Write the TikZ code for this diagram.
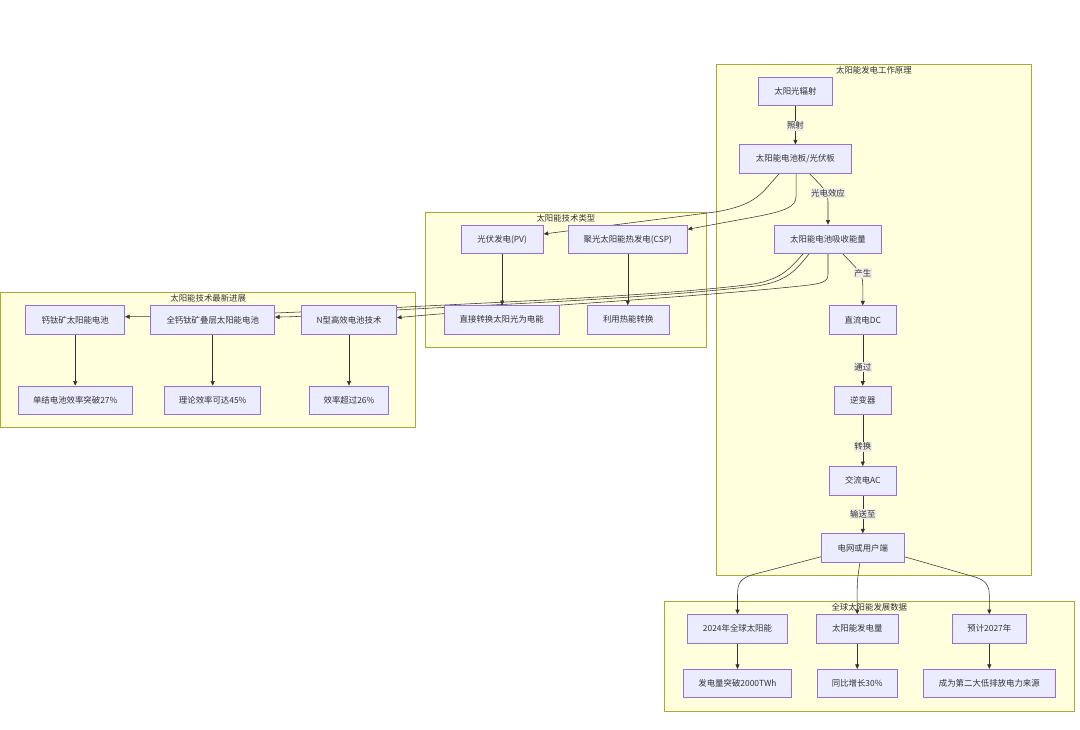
\documentclass[tikz,border=0pt]{standalone}
\usepackage{fontspec}
\setmainfont{Noto Sans CJK SC}
\usetikzlibrary{arrows.meta}
\definecolor{nodefill}{HTML}{ECECFF}
\definecolor{nodeline}{HTML}{9370DB}
\definecolor{clfill}{HTML}{FFFFDE}
\definecolor{clline}{HTML}{AAAA33}
\definecolor{edgecol}{HTML}{333333}
\definecolor{txt}{HTML}{333333}
\definecolor{labfill}{HTML}{EDEDE6}
\pgfdeclarelayer{bg}
\pgfdeclarelayer{edges}
\pgfsetlayers{bg,edges,main}
\tikzset{
  box/.style={draw=nodeline, fill=nodefill, line width=0.65pt, minimum height=28.5pt, inner sep=0pt, text=txt, font=\fontsize{8.4}{10}\selectfont},
  cluster/.style={draw=clline, fill=clfill, line width=0.65pt},
  ctitle/.style={text=txt, inner sep=0pt, font=\fontsize{8.4}{10}\selectfont},
  edge/.style={draw=edgecol, line width=0.55pt, -{Triangle[length=4.5pt,width=4pt]}},
  lab/.style={fill=labfill, text=txt, inner xsep=0.3pt, inner ysep=0pt, minimum height=10pt, font=\fontsize{8.4}{10}\selectfont}
}
\begin{document}
\begin{tikzpicture}[x=1pt,y=-1pt]
\useasboundingbox (0,0) rectangle (1080,730);
\begin{pgfonlayer}{bg}
  \fill[white] (0,0) rectangle (1080,730);
  \draw[cluster] (716,64.3) rectangle (1031.7,575.3);
  \node[ctitle] (t1) at (873.9,70.6) {太阳能发电工作原理};
  \draw[cluster] (425.7,212.3) rectangle (706,347);
  \node[ctitle] (t2) at (565.9,218.6) {太阳能技术类型};
  \draw[cluster] (0.7,292.3) rectangle (415.7,427.3);
  \node[ctitle] (t3) at (208.2,298.6) {太阳能技术最新进展};
  \draw[cluster] (664.7,601.3) rectangle (1074,711);
  \node[ctitle] (t4) at (869.3,607.6) {全球太阳能发展数据};
\end{pgfonlayer}

% principle
\node[box, minimum width=74.4pt] (sun) at (795.4,91.5) {太阳光辐射};
\node[box, minimum width=112pt] (panel) at (795.4,159) {太阳能电池板/光伏板};
\node[box, minimum width=107.4pt] (absorb) at (828,239.2) {太阳能电池吸收能量};
\node[box, minimum width=67pt] (dc) at (862.8,320) {直流电DC};
\node[box, minimum width=57pt] (inv) at (862.8,400.3) {逆变器};
\node[box, minimum width=67pt] (ac) at (862.8,480.7) {交流电AC};
\node[box, minimum width=82.4pt] (grid) at (862.8,548) {电网或用户端};
% types
\node[box, minimum width=82.3pt] (pv) at (502.2,239.3) {光伏发电(PV)};
\node[box, minimum width=119pt] (csp) at (627.8,239.3) {聚光太阳能热发电(CSP)};
\node[box, minimum width=115.3pt] (direct) at (501.7,319.8) {直接转换太阳光为电能};
\node[box, minimum width=82.3pt] (heat) at (628.2,319.8) {利用热能转换};
% progress
\node[box, minimum width=99pt] (pero) at (75.2,320) {钙钛矿太阳能电池};
\node[box, minimum width=124pt] (allp) at (212.7,320) {全钙钛矿叠层太阳能电池};
\node[box, minimum width=95.4pt] (ntype) at (349,320) {N型高效电池技术};
\node[box, minimum width=113.4pt] (single) at (75.2,400.2) {单结电池效率突破27\%};
\node[box, minimum width=96pt] (theory) at (212.7,400.2) {理论效率可达45\%};
\node[box, minimum width=79pt] (eff) at (349,400.2) {效率超过26\%};
% data
\node[box, minimum width=100.4pt] (y2024) at (737.5,628.7) {2024年全球太阳能};
\node[box, minimum width=82.3pt] (gen) at (857.2,628.7) {太阳能发电量};
\node[box, minimum width=74.7pt] (y2027) at (989.3,628.7) {预计2027年};
\node[box, minimum width=108.4pt] (twh) at (737.5,683.5) {发电量突破2000TWh};
\node[box, minimum width=79.4pt] (yoy) at (857.2,683.5) {同比增长30\%};
\node[box, minimum width=132.7pt] (second) at (989.3,683.5) {成为第二大低排放电力来源};

\begin{pgfonlayer}{edges}
  \draw[edge] (sun.south) -- (panel.north);
  \node[lab] (l1) at (795.4,125.8) {照射};
  \draw[edge] ([xshift=14pt]panel.south) .. controls (820,185) and (828,190) .. (828,202) -- (absorb.north);
  \node[lab] (l2) at (828,193.3) {光电效应};
  \draw[edge] ([xshift=14.7pt]absorb.south) .. controls (856,268) and (862.8,272) .. (862.8,285) -- (dc.north);
  \node[lab] (l3) at (862.8,273.2) {产生};
  \draw[edge] (dc.south) -- (inv.north);
  \node[lab] (l4) at (862.8,367.2) {通过};
  \draw[edge] (inv.south) -- (ac.north);
  \node[lab] (l5) at (862.8,446.7) {转换};
  \draw[edge] (ac.south) -- (grid.north);
  \node[lab] (l6) at (862.8,514.3) {输送至};

  \draw[edge] ([xshift=-16pt]panel.south) .. controls (762,192) and (758,205) .. (715,212) -- ([yshift=5.3pt]pv.east);
  \draw[edge] ([xshift=0.7pt]panel.south) -- (796.1,196) .. controls (796.1,207) and (785,211) .. (757,216.5) -- ([yshift=10pt]csp.east);

  \draw[edge] ([xshift=-24.7pt]absorb.south) .. controls (790,268) and (782,280) .. (750,284.5) .. controls (650,297) and (450,304) .. (380,308.5) .. controls (300,312) and (200,316.7) .. ([yshift=3.3pt]pero.east);
  \draw[edge] ([xshift=-18.7pt]absorb.south) .. controls (797,268) and (790,280) .. (760,285.5) .. controls (650,299) and (460,306) .. (397,310) .. controls (350,313) and (300,317) .. ([yshift=3pt]allp.east);
  \draw[edge] (absorb.south) -- (828,274) .. controls (828,282) and (822,283.5) .. (805,285.5) .. controls (700,297) and (500,308) .. ([yshift=2.3pt]ntype.east);

  \draw[edge] (pv.south) -- (pv.south |- direct.north);
  \draw[edge] (csp.south) -- (csp.south |- heat.north);
  \draw[edge] (pero.south) -- (single.north);
  \draw[edge] (allp.south) -- (theory.north);
  \draw[edge] (ntype.south) -- (eff.north);

  \draw[edge] ([yshift=-8.7pt]grid.west) -- (755,574) .. controls (740,578) and (737.5,583) .. (737.5,595) -- (y2024.north);
  \draw[edge] ([xshift=-2.8pt]grid.south) .. controls (858.5,572) and (857.2,578) .. (857.2,590) -- (gen.north);
  \draw[edge] ([yshift=-8.7pt]grid.east) -- (975,577) .. controls (985,580) and (989.3,585) .. (989.3,595) -- (y2027.north);

  \draw[edge] (y2024.south) -- (twh.north);
  \draw[edge] (gen.south) -- (yoy.north);
  \draw[edge] (y2027.south) -- (second.north);
\end{pgfonlayer}
\end{tikzpicture}
\end{document}
